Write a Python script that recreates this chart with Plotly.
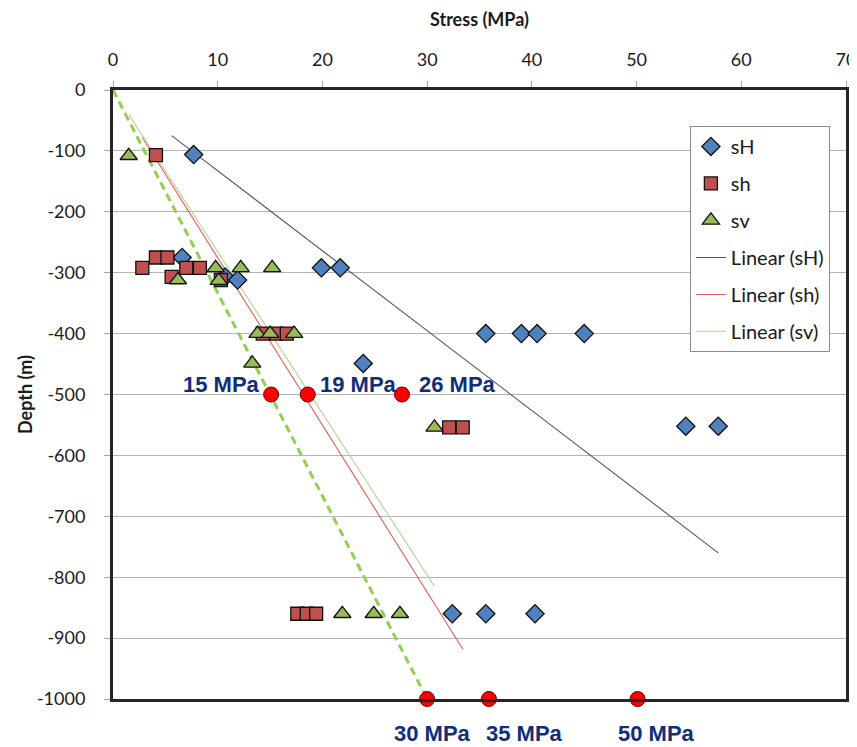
import plotly.graph_objects as go

# ---- data ----
sH_x = [7.7, 6.6, 19.9, 21.7, 10.7, 11.9, 35.6, 39.0, 40.5, 45.0, 23.9, 54.7, 57.8, 32.4, 35.6, 40.3]
sH_y = [-106, -275, -292, -292, -307, -312, -400, -400, -400, -400, -449, -552, -552, -860, -860, -860]

sh_x = [4.1, 4.1, 5.2, 2.8, 7.0, 8.3, 5.6, 10.3, 14.3, 15.6, 16.6, 32.1, 33.4, 17.6, 18.5, 19.4]
sh_y = [-107, -275, -275, -292, -292, -292, -307, -312, -400, -400, -400, -554, -554, -860, -860, -860]

sv_x = [1.5, 9.8, 12.2, 15.2, 6.2, 10.1, 13.8, 15.0, 17.3, 13.3, 30.7, 21.9, 24.9, 27.4]
sv_y = [-108, -292, -292, -292, -312, -313, -400, -400, -400, -449, -554, -860, -860, -860]

lin_sH_x = [5.6, 57.8]
lin_sH_y = [-75, -760]
lin_sh_x = [2.8, 33.4]
lin_sh_y = [-78, -918]
lin_sv_x = [1.5, 30.7]
lin_sv_y = [-40, -815]

ref_x = [0, 30]
ref_y = [0, -1000]

mid_x = [15.1, 18.6, 27.6]
mid_y = [-500, -500, -500]
mid_labels = ["15 MPa", "19 MPa", "26 MPa"]

bot_x = [30.0, 35.9, 50.1]
bot_y = [-1000, -1000, -1000]
bot_labels = ["30 MPa", "35 MPa", "50 MPa"]

x_ticks = [0, 10, 20, 30, 40, 50, 60, 70]
y_ticks = [0, -100, -200, -300, -400, -500, -600, -700, -800, -900, -1000]
y_tick_text = ["0", "-100", "-200", "-300", "-400", "-500", "-600", "-700", "-800", "-900", "-1000"]

FONT = "Lato"
LBL = dict(family="Liberation Sans", size=22, color="#102d7a")

fig = go.Figure()

# trend lines (drawn under markers)
fig.add_trace(go.Scatter(x=ref_x, y=ref_y, mode="lines", showlegend=False,
                         line=dict(color="#92d050", width=3, dash="8px,5px"), cliponaxis=False))
fig.add_trace(go.Scatter(x=lin_sH_x, y=lin_sH_y, mode="lines", name="Linear (sH)",
                         line=dict(color="#555555", width=1.1), legendgroup="d", legendrank=4))
fig.add_trace(go.Scatter(x=lin_sh_x, y=lin_sh_y, mode="lines", name="Linear (sh)",
                         line=dict(color="#e35a5a", width=1.1), legendgroup="e", legendrank=5))
fig.add_trace(go.Scatter(x=lin_sv_x, y=lin_sv_y, mode="lines", name="Linear (sv)",
                         line=dict(color="#c4d89b", width=1.3), legendgroup="f", legendrank=6))

mline = dict(color="#111111", width=1.3)
fig.add_trace(go.Scatter(x=sH_x, y=sH_y, mode="markers", name="sH", legendgroup="a", legendrank=1,
                         marker=dict(symbol="diamond", size=14, color="#4f81bd", line=mline)))
fig.add_trace(go.Scatter(x=sh_x, y=sh_y, mode="markers", name="sh", legendgroup="b", legendrank=2,
                         marker=dict(symbol="square", size=13, color="#c0504d", line=mline)))
fig.add_trace(go.Scatter(x=sv_x, y=sv_y, mode="markers", name="sv", legendgroup="c", legendrank=3,
                         marker=dict(symbol="triangle-up", size=15, color="#9bbb59", line=mline)))

dot = dict(size=15, color="#ff0000", line=dict(color="#5a0000", width=1))
fig.add_trace(go.Scatter(x=mid_x, y=mid_y, mode="markers", showlegend=False, marker=dot, cliponaxis=False))
fig.add_trace(go.Scatter(x=bot_x, y=bot_y, mode="markers", showlegend=False, marker=dot, cliponaxis=False))

# annotations
mid_anchor = ["right", "left", "left"]
mid_shift = [-9, 10, 15]
for xv, yv, t, a, s in zip(mid_x, mid_y, mid_labels, mid_anchor, mid_shift):
    fig.add_annotation(x=xv, y=yv, text="<b>%s</b>" % t, showarrow=False, xanchor=a,
                       yanchor="middle", xshift=s, yshift=10, font=LBL)
bot_shift = [5, 36, 19]
for xv, yv, t, s in zip(bot_x, bot_y, bot_labels, bot_shift):
    fig.add_annotation(x=xv, y=yv, text="<b>%s</b>" % t, showarrow=False, xanchor="center",
                       yanchor="middle", xshift=s, yshift=-34, font=LBL)

# page body has an 8px default margin, so the figure is sized to fit inside it
fig.update_layout(
    width=849, height=739,
    margin=dict(l=105, r=11, t=82, b=48, autoexpand=False),
    paper_bgcolor="white", plot_bgcolor="white",
    font=dict(family=FONT, size=18, color="#1a1a1a"),
    showlegend=True,
    legend=dict(x=0.787, y=0.941, xanchor="left", yanchor="top",
                bgcolor="white", bordercolor="#8c8c8c", borderwidth=1,
                font=dict(family=FONT, size=20, color="#1a1a1a"),
                traceorder="grouped", tracegroupgap=8),
    xaxis=dict(side="top", range=[0, 70], tickvals=x_ticks, showgrid=False, zeroline=False,
               showline=True, mirror=True, linecolor="#262626", linewidth=3,
               ticks="outside", ticklen=6, tickcolor="#a6a6a6", ticklabelstandoff=8,
               automargin=False,
               title=dict(text="<b>Stress (MPa)</b>", font=dict(family=FONT, size=18), standoff=18)),
    yaxis=dict(range=[-1000, 0], tickvals=y_ticks, ticktext=y_tick_text,
               showgrid=True, gridcolor="#b4b4b4", gridwidth=1,
               zeroline=False, showline=True, mirror=True, linecolor="#262626", linewidth=3,
               ticks="outside", ticklen=6, tickcolor="#a6a6a6", ticklabelstandoff=15,
               automargin=False,
               title=dict(text="<b>Depth (m)</b>", font=dict(family=FONT, size=18), standoff=0)),
)

fig.write_html("out.html")
